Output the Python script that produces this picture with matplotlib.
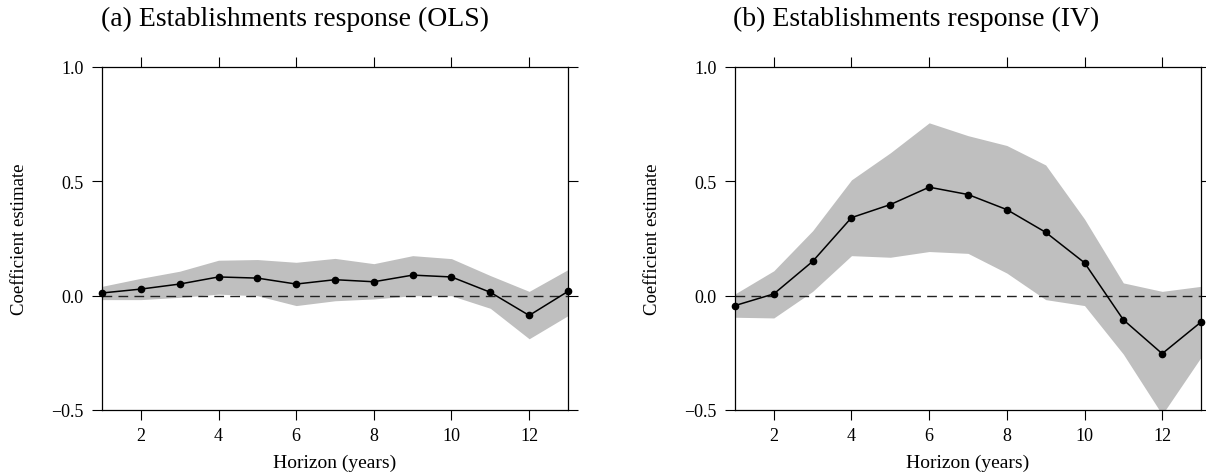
import numpy as np
import matplotlib
matplotlib.use("Agg")
import matplotlib.pyplot as plt

plt.rcParams['font.family'] = ['Liberation Serif', 'DejaVu Serif']
plt.rcParams['mathtext.fontset'] = 'stix'

horizon = [1, 2, 3, 4, 5, 6, 7, 8, 9, 10, 11, 12, 13]

# (a) OLS
ols_coef = [0.011, 0.028, 0.050, 0.081, 0.076, 0.050, 0.069, 0.060, 0.089, 0.081, 0.014, -0.087, 0.018]
ols_upper = [0.040, 0.075, 0.106, 0.154, 0.157, 0.145, 0.162, 0.139, 0.174, 0.161, 0.087, 0.018, 0.113]
ols_lower = [-0.018, -0.018, -0.008, 0.006, -0.001, -0.044, -0.023, -0.015, -0.001, -0.001, -0.056, -0.189, -0.088]

# (b) IV
iv_coef = [-0.044, 0.007, 0.149, 0.340, 0.397, 0.473, 0.441, 0.375, 0.276, 0.143, -0.106, -0.254, -0.116]
iv_upper = [0.007, 0.108, 0.283, 0.505, 0.623, 0.754, 0.698, 0.655, 0.570, 0.334, 0.055, 0.018, 0.040]
iv_lower = [-0.095, -0.098, 0.018, 0.174, 0.167, 0.192, 0.184, 0.098, -0.018, -0.044, -0.256, -0.52, -0.270]

titles = ["(a) Establishments response (OLS)", "(b) Establishments response (IV)"]
title_x = [295, 916]
xticks = [2, 4, 6, 8, 10, 12]
yticks = [-0.5, 0.0, 0.5, 1.0]

W, H = 1206, 477
fig = plt.figure(figsize=(W / 100, H / 100), dpi=100)

ax_lefts = [102, 735]
ax_w = 466
ax_bottom = 1 - 411 / H
ax_h = (411 - 67.5) / H

panels = [(ols_coef, ols_upper, ols_lower), (iv_coef, iv_upper, iv_lower)]

for i, (coef, up, lo) in enumerate(panels):
    ax = fig.add_axes([ax_lefts[i] / W, ax_bottom, ax_w / W, ax_h])
    ax.fill_between(horizon, lo, up, color='#bfbfbf', linewidth=0, zorder=1)
    ax.axhline(0, color='#222222', linewidth=1.0, dashes=(7, 4.5), zorder=2)
    ax.plot(horizon, coef, color='black', linewidth=1.1, marker='o',
            markersize=4.5, zorder=3, clip_on=False)
    ax.set_xlim(1, 13)
    ax.set_ylim(-0.5, 1.0)
    ax.set_xticks(xticks)
    ax.set_yticks(yticks)
    ax.set_yticklabels(['\u22120.5', '0.0', '0.5', '1.0'])
    ax.tick_params(direction='out', length=7, width=0.8, labelsize=13,
                   top=True, right=True, color='black')
    ax.tick_params(axis='y', pad=6)
    ax.tick_params(axis='x', pad=5)
    for s in ax.spines.values():
        s.set_linewidth(0.9)
        s.set_color('black')
    ax.set_xlabel("Horizon (years)", fontsize=14, labelpad=7)
    ax.set_ylabel("Coefficient estimate", fontsize=13.5, labelpad=17)
    fig.text(title_x[i] / W, 1 - 19 / H, titles[i], fontsize=20,
             ha='center', va='center')

fig.savefig("out.png", dpi=100)
